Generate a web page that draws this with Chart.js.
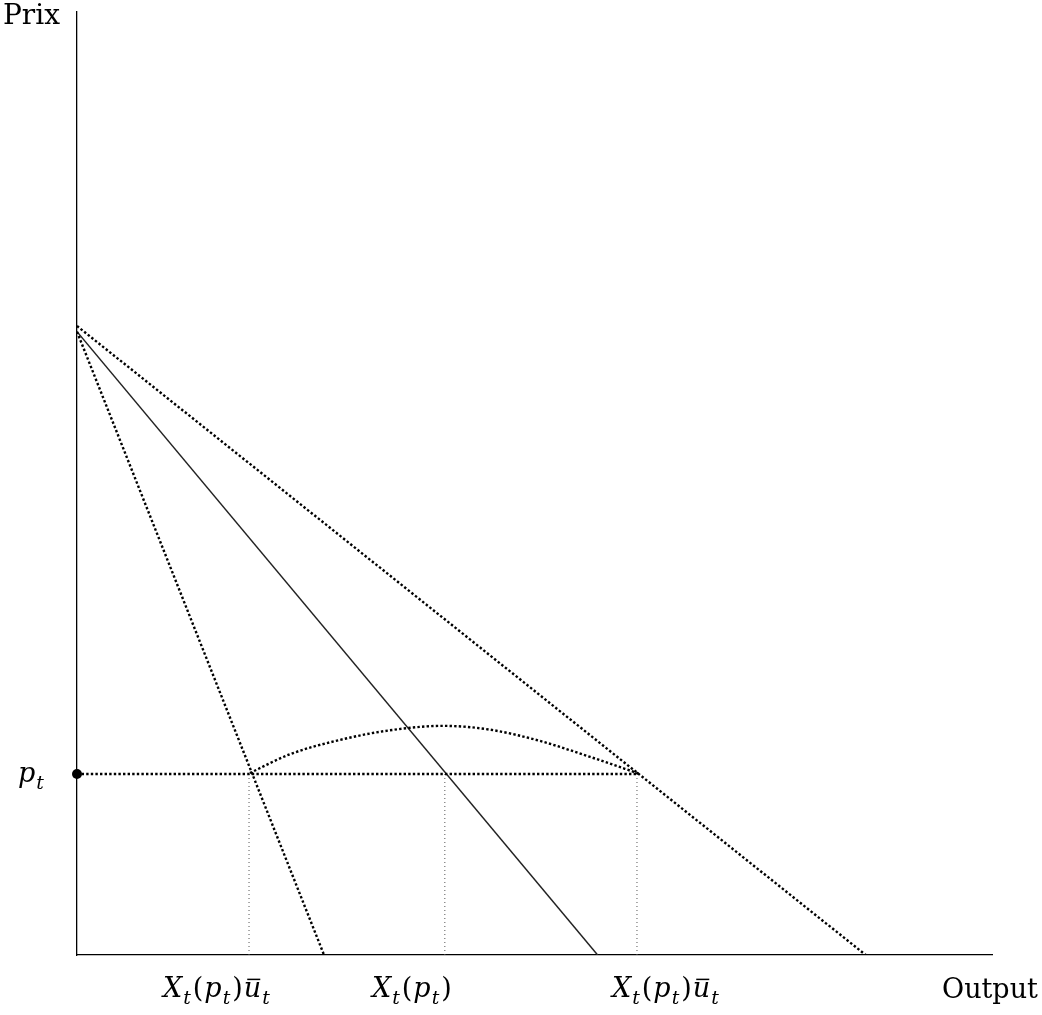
<!DOCTYPE html>
<html>
<head>
<meta charset="utf-8">
<script src="https://cdn.jsdelivr.net/npm/chart.js@4.4.1/dist/chart.umd.min.js"></script>
<style>
  html, body { margin: 0; padding: 0; background: #fff; }
  #wrap { width: 1042px; height: 1015px; }
</style>
</head>
<body>
<div id="wrap"><canvas id="chart"></canvas></div>
<script>
// Values (x: output, y: price, both 0..100)
const steepDemand = [{ x: 0, y: 66.1 }, { x: 27.0, y: 0 }];
const meanDemand = [{ x: 0, y: 66.1 }, { x: 56.9, y: 0 }];
const flatDemand = [{ x: 0, y: 66.7 }, { x: 86.2, y: 0 }];
const priceLine = [{ x: 0, y: 19.2 }, { x: 61.4, y: 19.2 }];
const priceDot = [{ x: 0, y: 19.2 }];
const arcX = [18.9, 23.3, 28.7, 34.0, 40.0, 45.1, 50.6, 56.1, 61.5];
const arcY = [19.3, 21.3, 22.8, 23.8, 24.3, 23.9, 22.7, 21.0, 19.2];
const dropX = [18.8, 40.2, 61.2];
const priceLevel = 19.2;

// Label texts as runs: [text, italic, subscript, bar]
const lowLabel = [['X', 1], ['t', 1, 1], ['(', 0], ['p', 1], ['t', 1, 1], [')', 0], ['u', 1, 0, 1], ['t', 1, 1]];
const midLabel = [['X', 1], ['t', 1, 1], ['(', 0], ['p', 1], ['t', 1, 1], [')', 0]];
const highLabel = lowLabel;
const xLabels = [lowLabel, midLabel, highLabel];
const xLabelLeft = [163, 372, 612];

const arcData = arcX.map((x, i) => ({ x: x, y: arcY[i] }));

const dropData = [];
dropX.forEach(x => {
    dropData.push({ x: x, y: 0 }, { x: x, y: priceLevel }, { x: NaN, y: NaN });
});

function drawRuns(ctx, runs, x, y, size) {
    runs.forEach(r => {
        const sz = r[2] ? size * 0.7 : size;
        ctx.font = (r[1] ? 'italic ' : '') + sz + 'px "DejaVu Serif"';
        const yy = r[2] ? y + size * 0.25 : y;
        ctx.fillText(r[0], x, yy);
        const w = ctx.measureText(r[0]).width;
        if (r[3]) {
            ctx.fillRect(x + w * 0.2, y - size * 0.68, w * 0.75, 1.5);
        }
        x += w + (r[2] ? 2 : 1);
    });
}

const labelPlugin = {
    id: 'labels',
    afterDraw(chart) {
        const ctx = chart.ctx;
        const ys = chart.scales.y;
        ctx.save();
        ctx.fillStyle = '#000';
        ctx.textBaseline = 'alphabetic';
        ctx.textAlign = 'left';
        ctx.font = '28px "DejaVu Serif"';
        ctx.fillText('Prix', 3, 24);
        ctx.font = '27px "DejaVu Serif"';
        ctx.fillText('Output', 942, 998);
        drawRuns(ctx, [['p', 1], ['t', 1, 1]], 18, ys.getPixelForValue(priceLevel) + 8, 27);
        xLabels.forEach((runs, i) => drawRuns(ctx, runs, xLabelLeft[i], 997, 27));
        ctx.restore();
    }
};

const dotted = { borderColor: '#000', borderWidth: 2.4, borderDash: [2.4, 2.2], pointRadius: 0, showLine: true, fill: false };

new Chart(document.getElementById('chart'), {
    type: 'scatter',
    data: {
        datasets: [
            Object.assign({ data: steepDemand }, dotted),
            Object.assign({ data: flatDemand }, dotted),
            Object.assign({ data: priceLine }, dotted),
            Object.assign({ data: arcData, cubicInterpolationMode: 'monotone' }, dotted),
            { data: meanDemand, borderColor: '#222', borderWidth: 1.5, pointRadius: 0, showLine: true },
            { data: dropData, borderColor: '#555', borderWidth: 1, borderDash: [1, 3], pointRadius: 0, showLine: true, spanGaps: false },
            { data: priceDot, pointRadius: 5, pointBackgroundColor: '#000', pointBorderWidth: 0, showLine: false, clip: false }
        ]
    },
    options: {
        responsive: true,
        maintainAspectRatio: false,
        animation: false,
        layout: { padding: { left: 77, right: 50, top: 12, bottom: 60 } },
        plugins: { legend: { display: false }, tooltip: { enabled: false } },
        scales: {
            x: {
                type: 'linear', min: 0, max: 100,
                ticks: { display: false },
                grid: { display: false, drawTicks: false },
                border: { display: true, color: '#000', width: 1.3 }
            },
            y: {
                type: 'linear', min: 0, max: 100,
                ticks: { display: false },
                grid: { display: false, drawTicks: false },
                border: { display: true, color: '#000', width: 1.3 }
            }
        }
    },
    plugins: [labelPlugin]
});
</script>
</body>
</html>
